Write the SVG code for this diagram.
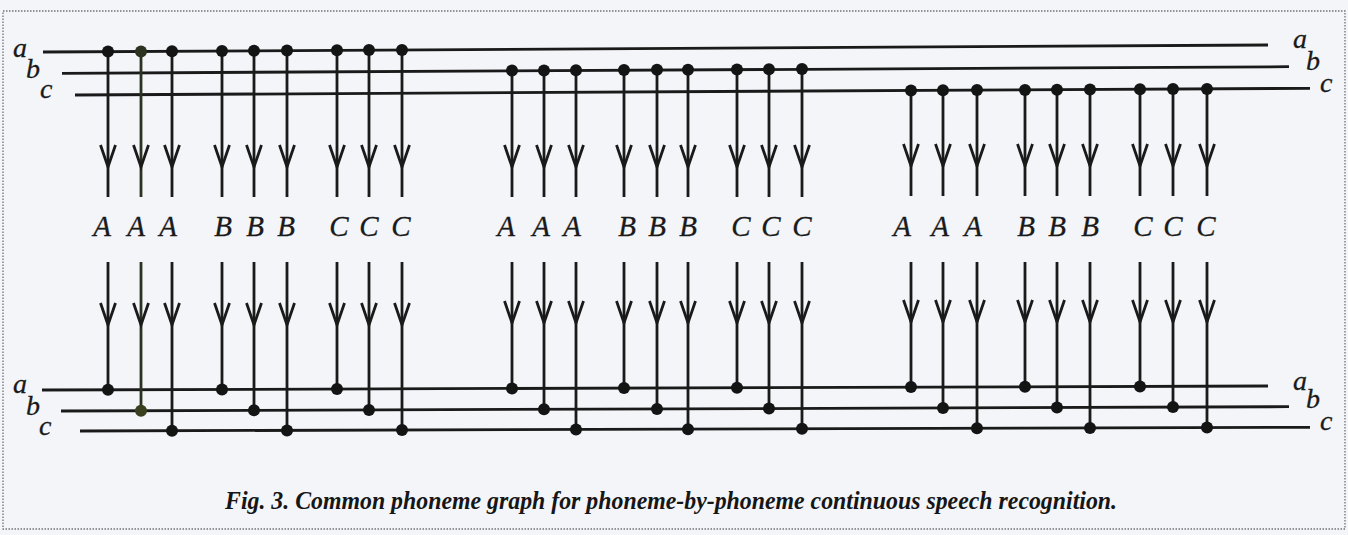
<svg xmlns="http://www.w3.org/2000/svg" xmlns:xlink="http://www.w3.org/1999/xlink" width="1348" height="535" viewBox="0 0 1348 535">
<style>
.bg{fill:#f3f5f9}
.frame{fill:none;stroke:#6f7175;stroke-width:1.3;stroke-dasharray:1.5 1.5}
.hl{stroke:#1a1a1a;stroke-width:2.8;fill:none}
.vl{stroke:#1a1a1a;stroke-width:2.8;fill:none}
.dot{fill:#141414}
.lab{font-family:"Liberation Serif","Times New Roman",serif;font-style:italic;font-size:28px;fill:#1a1a1a;stroke:#1a1a1a;stroke-width:0.3}
.ph{font-family:"Liberation Serif","Times New Roman",serif;font-style:italic;font-size:29px;fill:#1a1a1a;stroke:#1a1a1a;stroke-width:0.3;text-anchor:middle}
.cap{font-family:"Liberation Serif","Times New Roman",serif;font-style:italic;font-weight:bold;font-size:26px;fill:#161616}
</style>
<defs>
<path id="ah" d="M-7.5,-22 L0,0 L7.5,-22" fill="none" stroke="#1a1a1a" stroke-width="2.8" stroke-linejoin="miter"/>
</defs>
<rect class="bg" x="0" y="0" width="1348" height="535"/>
<rect class="frame" x="3" y="11" width="1342" height="518"/>

<g id="lines-top">
<path class="hl" d="M43,52 L1268,45"/>
<path class="hl" d="M62,73.3 L1289,66.7"/>
<path class="hl" d="M75,95 L1310,88.3"/>
</g>
<g id="lines-bottom">
<path class="hl" d="M42,390 L1268,386"/>
<path class="hl" d="M61,411 L1289,406.7"/>
<path class="hl" d="M80,431 L1310,427.3"/>
</g>

<g id="state-labels">
<text class="lab" x="13" y="57">a</text>
<text class="lab" x="26" y="78">b</text>
<text class="lab" x="40" y="98">c</text>
<text class="lab" x="13" y="393">a</text>
<text class="lab" x="26" y="415">b</text>
<text class="lab" x="39" y="435">c</text>
<text class="lab" x="1293" y="48">a</text>
<text class="lab" x="1306" y="70">b</text>
<text class="lab" x="1320" y="92">c</text>
<text class="lab" x="1293" y="390">a</text>
<text class="lab" x="1306" y="408">b</text>
<text class="lab" x="1320" y="430">c</text>
</g>

<g id="connectors">
<!-- group 1: from a -->
<path class="vl" d="M108,51.6 V197 M108,262 V389.8"/>
<path class="vl" d="M141,51.4 V197 M141,262 V410.7" style="stroke:#2c3320"/>
<path class="vl" d="M172,51.3 V197 M172,262 V430.7"/>
<path class="vl" d="M222,51 V197 M222,262 V389.4"/>
<path class="vl" d="M254,50.8 V197 M254,262 V410.3"/>
<path class="vl" d="M287,50.6 V197 M287,262 V430.4"/>
<path class="vl" d="M337,50.3 V197 M337,262 V389"/>
<path class="vl" d="M369,50.1 V197 M369,262 V409.9"/>
<path class="vl" d="M402,50 V197 M402,262 V430"/>
<!-- group 2: from b -->
<path class="vl" d="M512,70.6 V197 M512,262 V388.4"/>
<path class="vl" d="M544,70.4 V197 M544,262 V409.3"/>
<path class="vl" d="M576,70.3 V197 M576,262 V429.5"/>
<path class="vl" d="M624,70 V197 M624,262 V388.1"/>
<path class="vl" d="M657,69.8 V197 M657,262 V408.9"/>
<path class="vl" d="M688,69.7 V197 M688,262 V429.2"/>
<path class="vl" d="M737,69.4 V197 M737,262 V387.7"/>
<path class="vl" d="M769,69.3 V197 M769,262 V408.5"/>
<path class="vl" d="M802,69.1 V197 M802,262 V428.8"/>
<!-- group 3: from c -->
<path class="vl" d="M911,90.5 V196 M911,262 V387.1"/>
<path class="vl" d="M943,90.3 V196 M943,262 V407.9"/>
<path class="vl" d="M977,90.1 V196 M977,262 V428.3"/>
<path class="vl" d="M1025,89.9 V196 M1025,262 V386.8"/>
<path class="vl" d="M1057,89.7 V196 M1057,262 V407.5"/>
<path class="vl" d="M1090,89.5 V196 M1090,262 V428"/>
<path class="vl" d="M1140,89.2 V196 M1140,262 V386.4"/>
<path class="vl" d="M1173,89.1 V196 M1173,262 V407.1"/>
<path class="vl" d="M1207,88.9 V196 M1207,262 V427.6"/>

<g id="arrowheads-top">
<use href="#ah" x="108" y="167"/><use href="#ah" x="141" y="167"/><use href="#ah" x="172" y="167"/>
<use href="#ah" x="222" y="167"/><use href="#ah" x="254" y="167"/><use href="#ah" x="287" y="167"/>
<use href="#ah" x="337" y="167"/><use href="#ah" x="369" y="167"/><use href="#ah" x="402" y="167"/>
<use href="#ah" x="512" y="167"/><use href="#ah" x="544" y="167"/><use href="#ah" x="576" y="167"/>
<use href="#ah" x="624" y="167"/><use href="#ah" x="657" y="167"/><use href="#ah" x="688" y="167"/>
<use href="#ah" x="737" y="167"/><use href="#ah" x="769" y="167"/><use href="#ah" x="802" y="167"/>
<use href="#ah" x="911" y="166"/><use href="#ah" x="943" y="166"/><use href="#ah" x="977" y="166"/>
<use href="#ah" x="1025" y="166"/><use href="#ah" x="1057" y="166"/><use href="#ah" x="1090" y="166"/>
<use href="#ah" x="1140" y="166"/><use href="#ah" x="1173" y="166"/><use href="#ah" x="1207" y="166"/>
</g>
<g id="arrowheads-bottom">
<use href="#ah" x="108" y="325"/><use href="#ah" x="141" y="325"/><use href="#ah" x="172" y="325"/>
<use href="#ah" x="222" y="325"/><use href="#ah" x="254" y="325"/><use href="#ah" x="287" y="325"/>
<use href="#ah" x="337" y="325"/><use href="#ah" x="369" y="325"/><use href="#ah" x="402" y="325"/>
<use href="#ah" x="512" y="323"/><use href="#ah" x="544" y="323"/><use href="#ah" x="576" y="323"/>
<use href="#ah" x="624" y="323"/><use href="#ah" x="657" y="323"/><use href="#ah" x="688" y="323"/>
<use href="#ah" x="737" y="323"/><use href="#ah" x="769" y="323"/><use href="#ah" x="802" y="323"/>
<use href="#ah" x="911" y="322"/><use href="#ah" x="943" y="322"/><use href="#ah" x="977" y="322"/>
<use href="#ah" x="1025" y="322"/><use href="#ah" x="1057" y="322"/><use href="#ah" x="1090" y="322"/>
<use href="#ah" x="1140" y="322"/><use href="#ah" x="1173" y="322"/><use href="#ah" x="1207" y="322"/>
</g>
</g>

<g id="dots">
<circle class="dot" cx="108" cy="51.6" r="6"/><circle class="dot" cx="141" cy="51.4" r="6" style="fill:#2c3320"/><circle class="dot" cx="172" cy="51.3" r="6"/>
<circle class="dot" cx="222" cy="51" r="6"/><circle class="dot" cx="254" cy="50.8" r="6"/><circle class="dot" cx="287" cy="50.6" r="6"/>
<circle class="dot" cx="337" cy="50.3" r="6"/><circle class="dot" cx="369" cy="50.1" r="6"/><circle class="dot" cx="402" cy="50" r="6"/>
<circle class="dot" cx="512" cy="70.6" r="6"/><circle class="dot" cx="544" cy="70.4" r="6"/><circle class="dot" cx="576" cy="70.3" r="6"/>
<circle class="dot" cx="624" cy="70" r="6"/><circle class="dot" cx="657" cy="69.8" r="6"/><circle class="dot" cx="688" cy="69.7" r="6"/>
<circle class="dot" cx="737" cy="69.4" r="6"/><circle class="dot" cx="769" cy="69.3" r="6"/><circle class="dot" cx="802" cy="69.1" r="6"/>
<circle class="dot" cx="911" cy="90.5" r="6"/><circle class="dot" cx="943" cy="90.3" r="6"/><circle class="dot" cx="977" cy="90.1" r="6"/>
<circle class="dot" cx="1025" cy="89.9" r="6"/><circle class="dot" cx="1057" cy="89.7" r="6"/><circle class="dot" cx="1090" cy="89.5" r="6"/>
<circle class="dot" cx="1140" cy="89.2" r="6"/><circle class="dot" cx="1173" cy="89.1" r="6"/><circle class="dot" cx="1207" cy="88.9" r="6"/>

<circle class="dot" cx="108" cy="389.8" r="6"/><circle class="dot" cx="141" cy="410.7" r="6" style="fill:#3a3f1e"/><circle class="dot" cx="172" cy="430.7" r="6"/>
<circle class="dot" cx="222" cy="389.4" r="6"/><circle class="dot" cx="254" cy="410.3" r="6"/><circle class="dot" cx="287" cy="430.4" r="6"/>
<circle class="dot" cx="337" cy="389" r="6"/><circle class="dot" cx="369" cy="409.9" r="6"/><circle class="dot" cx="402" cy="430" r="6"/>
<circle class="dot" cx="512" cy="388.4" r="6"/><circle class="dot" cx="544" cy="409.3" r="6"/><circle class="dot" cx="576" cy="429.5" r="6"/>
<circle class="dot" cx="624" cy="388.1" r="6"/><circle class="dot" cx="657" cy="408.9" r="6"/><circle class="dot" cx="688" cy="429.2" r="6"/>
<circle class="dot" cx="737" cy="387.7" r="6"/><circle class="dot" cx="769" cy="408.5" r="6"/><circle class="dot" cx="802" cy="428.8" r="6"/>
<circle class="dot" cx="911" cy="387.1" r="6"/><circle class="dot" cx="943" cy="407.9" r="6"/><circle class="dot" cx="977" cy="428.3" r="6"/>
<circle class="dot" cx="1025" cy="386.8" r="6"/><circle class="dot" cx="1057" cy="407.5" r="6"/><circle class="dot" cx="1090" cy="428" r="6"/>
<circle class="dot" cx="1140" cy="386.4" r="6"/><circle class="dot" cx="1173" cy="407.1" r="6"/><circle class="dot" cx="1207" cy="427.6" r="6"/>
</g>

<g id="phoneme-labels">
<text class="ph" x="102" y="236">A</text><text class="ph" x="136" y="236">A</text><text class="ph" x="168" y="236">A</text>
<text class="ph" x="223" y="236">B</text><text class="ph" x="255" y="236">B</text><text class="ph" x="286" y="236">B</text>
<text class="ph" x="339" y="236">C</text><text class="ph" x="369" y="236">C</text><text class="ph" x="401" y="236">C</text>
<text class="ph" x="506" y="236">A</text><text class="ph" x="541" y="236">A</text><text class="ph" x="572" y="236">A</text>
<text class="ph" x="627" y="236">B</text><text class="ph" x="657" y="236">B</text><text class="ph" x="688" y="236">B</text>
<text class="ph" x="741" y="236">C</text><text class="ph" x="771" y="236">C</text><text class="ph" x="802" y="236">C</text>
<text class="ph" x="902" y="236">A</text><text class="ph" x="940" y="236">A</text><text class="ph" x="973" y="236">A</text>
<text class="ph" x="1026" y="236">B</text><text class="ph" x="1057" y="236">B</text><text class="ph" x="1090" y="236">B</text>
<text class="ph" x="1143" y="236">C</text><text class="ph" x="1173" y="236">C</text><text class="ph" x="1206" y="236">C</text>
</g>

<g id="caption">
<text class="cap" x="225" y="509" textLength="892" lengthAdjust="spacingAndGlyphs">Fig. 3. Common phoneme graph for phoneme-by-phoneme continuous speech recognition.</text>
</g>
</svg>
